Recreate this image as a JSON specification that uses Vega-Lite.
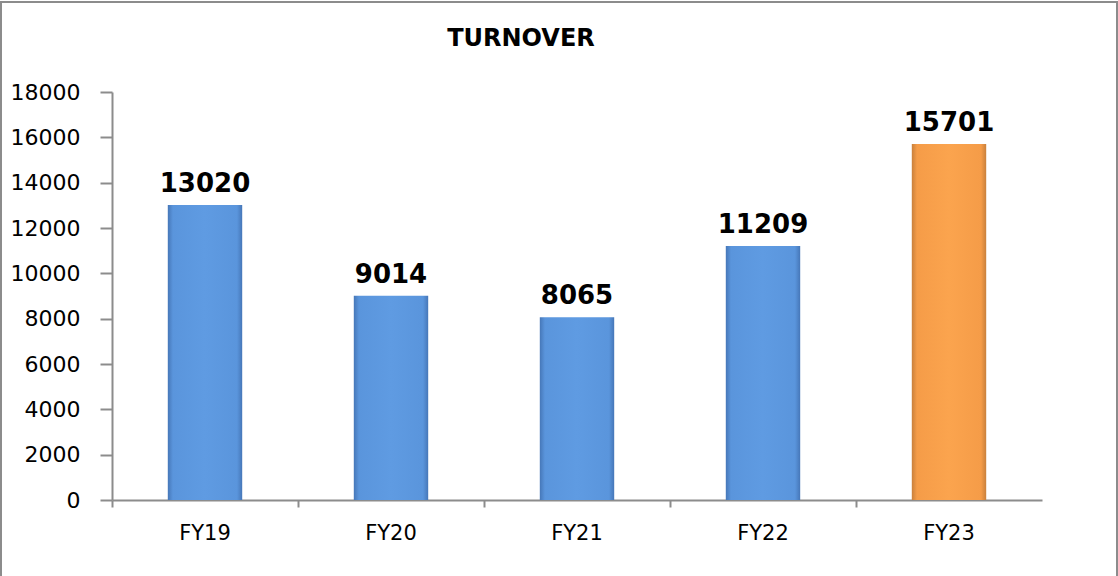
{
  "$schema": "https://vega.github.io/schema/vega-lite/v6.json",
  "autosize": "none",
  "width": 1116,
  "height": 580,
  "padding": {"left": 1, "top": 2, "right": 1, "bottom": 0},
  "background": "white",
  "config": {
    "view": {"stroke": "#8c8c8c", "strokeWidth": 2},
    "font": "DejaVu Sans"
  },
  "title": {
    "text": "TURNOVER",
    "fontSize": 24,
    "fontWeight": "bold",
    "font": "DejaVu Sans",
    "color": "#000000",
    "anchor": "middle",
    "offset": -68,
    "baseline": "alphabetic",
    "dx": -38
  },
  "data": {
    "values": [
      {"year": "FY19", "turnover": 13020, "hl": "no"},
      {"year": "FY20", "turnover": 9014, "hl": "no"},
      {"year": "FY21", "turnover": 8065, "hl": "no"},
      {"year": "FY22", "turnover": 11209, "hl": "no"},
      {"year": "FY23", "turnover": 15701, "hl": "yes"}
    ]
  },
  "encoding": {
    "x": {
      "field": "year",
      "type": "nominal",
      "sort": null,
      "scale": {"range": [111, 1041], "paddingInner": 0, "paddingOuter": 0},
      "axis": {
        "title": null,
        "offset": -82,
        "bandPosition": 0,
        "labelOffset": 0,
        "labelAngle": 0,
        "labelFontSize": 21,
        "labelColor": "#000000",
        "labelPadding": 15,
        "tickSize": 7,
        "tickColor": "#8c8c8c",
        "domainColor": "#8c8c8c",
        "domainWidth": 2,
        "tickWidth": 2,
        "grid": false
      }
    },
    "y": {
      "field": "turnover",
      "type": "quantitative",
      "scale": {"domain": [0, 18000], "range": [498, 90], "nice": false},
      "axis": {
        "title": null,
        "offset": -111,
        "values": [0, 2000, 4000, 6000, 8000, 10000, 12000, 14000, 16000, 18000],
        "format": "d",
        "labelFontSize": 22,
        "labelColor": "#000000",
        "labelPadding": 20,
        "tickSize": 12,
        "tickColor": "#8c8c8c",
        "domainColor": "#8c8c8c",
        "domainWidth": 2,
        "tickWidth": 2,
        "grid": false
      }
    }
  },
  "layer": [
    {
      "mark": {"type": "bar", "width": {"band": 0.4}},
      "encoding": {
        "fill": {
          "condition": {
            "test": "datum.hl === 'yes'",
            "value": {
              "gradient": "linear", "x1": 0, "x2": 1, "y1": 0, "y2": 0,
              "stops": [
                {"offset": 0, "color": "#c9803c"},
                {"offset": 0.07, "color": "#f59c48"},
                {"offset": 0.5, "color": "#fba44e"},
                {"offset": 0.93, "color": "#f59c48"},
                {"offset": 1, "color": "#c9803c"}
              ]
            }
          },
          "value": {
            "gradient": "linear", "x1": 0, "x2": 1, "y1": 0, "y2": 0,
            "stops": [
              {"offset": 0, "color": "#4677b8"},
              {"offset": 0.07, "color": "#5a95dc"},
              {"offset": 0.5, "color": "#5f9be2"},
              {"offset": 0.93, "color": "#5a95dc"},
              {"offset": 1, "color": "#4677b8"}
            ]
          }
        }
      }
    },
    {
      "mark": {"type": "text", "dy": -13, "baseline": "alphabetic", "fontSize": 26, "fontWeight": "bold", "color": "#000000"},
      "encoding": {
        "text": {"field": "turnover", "type": "quantitative", "format": "d"}
      }
    }
  ]
}
